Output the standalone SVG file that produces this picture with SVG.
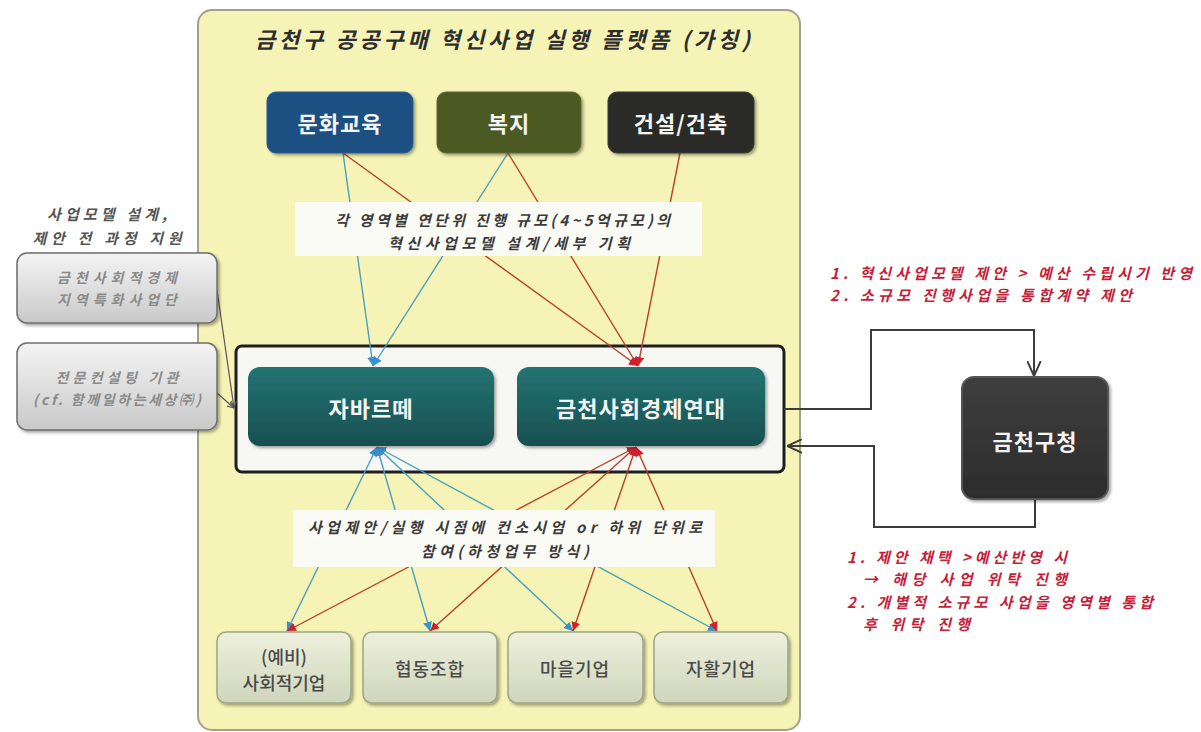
<svg xmlns="http://www.w3.org/2000/svg" width="1201" height="732" viewBox="0 0 1201 732">
<style>
text{font-family:"Noto Sans CJK KR","Noto Sans",sans-serif;}
.it{font-style:italic;font-weight:bold;}
.title{font-size:22px;fill:#2e2e2e;}
.lbl{font-size:15px;fill:#3a3a3a;}
.red{font-size:15px;fill:#c41e3a;}
.side{font-size:15px;fill:#555;}
.gtx{font-size:14px;fill:#8a8a8a;}
.wt{font-size:22px;font-weight:bold;fill:#f4f4f4;}
.bt{font-size:18px;font-weight:500;fill:#4a4a4a;}
.cb{fill:none;stroke-width:1.4;}
.bl{stroke:#4a9fc0;}
.rd{stroke:#b8402e;}
.dk{fill:none;stroke:#3c3c3c;stroke-width:2;}
</style>
<defs>
<filter id="sh" x="-10%" y="-10%" width="130%" height="140%"><feDropShadow dx="2" dy="2" stdDeviation="1.5" flood-color="#000" flood-opacity="0.35"/></filter>
<linearGradient id="gTeal" x1="0" y1="0" x2="0" y2="1"><stop offset="0" stop-color="#237373"/><stop offset="1" stop-color="#184f50"/></linearGradient>
<linearGradient id="gGrey" x1="0" y1="0" x2="0" y2="1"><stop offset="0" stop-color="#f4f4f4"/><stop offset="1" stop-color="#c9c9c9"/></linearGradient>
<linearGradient id="gGreen" x1="0" y1="0" x2="0" y2="1"><stop offset="0" stop-color="#eef0dc"/><stop offset="1" stop-color="#cfd6bc"/></linearGradient>
<linearGradient id="gDark" x1="0" y1="0" x2="0" y2="1"><stop offset="0" stop-color="#3e3e3e"/><stop offset="1" stop-color="#2c2c2c"/></linearGradient>
<marker id="mB" viewBox="0 0 10 10" refX="10" refY="5" markerWidth="9" markerHeight="9" markerUnits="userSpaceOnUse" orient="auto-start-reverse"><path d="M0,0 L10,5 L0,10 z" fill="#3a8fd0"/></marker>
<marker id="mR" viewBox="0 0 10 10" refX="10" refY="5" markerWidth="9" markerHeight="9" markerUnits="userSpaceOnUse" orient="auto-start-reverse"><path d="M0,0 L10,5 L0,10 z" fill="#d0202a"/></marker>
<marker id="mG" viewBox="0 0 10 10" refX="10" refY="5" markerWidth="7" markerHeight="7" markerUnits="userSpaceOnUse" orient="auto"><path d="M0,0 L10,5 L0,10" fill="none" stroke="#555" stroke-width="1.5"/></marker>
<marker id="mO" viewBox="0 0 10 10" refX="10" refY="5" markerWidth="15" markerHeight="15" markerUnits="userSpaceOnUse" orient="auto"><path d="M0,0.5 L10,5 L0,9.5" fill="none" stroke="#3c3c3c" stroke-width="1.3"/></marker>
</defs>
<rect width="1201" height="732" fill="#ffffff"/>
<g id="panel">
<rect x="198" y="10" width="602" height="720" rx="14" fill="#f5f3b5" stroke="#a2a28a" stroke-width="2"/>
<text class="title it" x="255" y="38" dominant-baseline="central" textLength="495" lengthAdjust="spacing">금천구 공공구매 혁신사업 실행 플랫폼 (가칭)</text>
</g>
<g id="container">
<rect x="236" y="346" width="548" height="126" rx="6" fill="#f7f7f4" stroke="#1e1e1e" stroke-width="3"/>
</g>
<g id="connectors">
<line class="cb bl" x1="343" y1="153" x2="373" y2="366" marker-end="url(#mB)"/>
<line class="cb bl" x1="508" y1="153" x2="373" y2="366" marker-end="url(#mB)"/>
<line class="cb rd" x1="343" y1="153" x2="638" y2="366" marker-end="url(#mR)"/>
<line class="cb rd" x1="508" y1="153" x2="638" y2="366" marker-end="url(#mR)"/>
<line class="cb rd" x1="680" y1="153" x2="638" y2="366" marker-end="url(#mR)"/>
<line class="cb bl" x1="377" y1="447" x2="287" y2="631" marker-start="url(#mB)" marker-end="url(#mB)"/>
<line class="cb bl" x1="377" y1="447" x2="430" y2="631" marker-start="url(#mB)" marker-end="url(#mB)"/>
<line class="cb bl" x1="377" y1="447" x2="573" y2="631" marker-start="url(#mB)" marker-end="url(#mB)"/>
<line class="cb bl" x1="377" y1="447" x2="717" y2="631" marker-start="url(#mB)" marker-end="url(#mB)"/>
<line class="cb rd" x1="636" y1="447" x2="287" y2="631" marker-start="url(#mR)" marker-end="url(#mR)"/>
<line class="cb rd" x1="636" y1="447" x2="430" y2="631" marker-start="url(#mR)" marker-end="url(#mR)"/>
<line class="cb rd" x1="636" y1="447" x2="573" y2="631" marker-start="url(#mR)" marker-end="url(#mR)"/>
<line class="cb rd" x1="636" y1="447" x2="717" y2="631" marker-start="url(#mR)" marker-end="url(#mR)"/>
<line x1="217" y1="290" x2="234" y2="408" stroke="#555" stroke-width="1.2" marker-end="url(#mG)"/>
<line x1="217" y1="393" x2="234" y2="408" stroke="#555" stroke-width="1.2" marker-end="url(#mG)"/>
<polyline class="dk" points="784,409 871,409 871,330 1034,330 1034,376" marker-end="url(#mO)"/>
<polyline class="dk" points="1035,499 1035,527 874,527 874,446 787,446" marker-end="url(#mO)"/>
</g>
<g id="label-plan">
<rect x="295" y="202" width="407" height="54" fill="#fbfbf6"/>
<text class="lbl it" x="335" y="219" dominant-baseline="central" textLength="335" lengthAdjust="spacing">각 영역별 연단위 진행 규모(4~5억규모)의</text>
<text class="lbl it" x="388" y="242" dominant-baseline="central" textLength="242" lengthAdjust="spacing">혁신사업모델 설계/세부 기획</text>
</g>
<g id="label-join">
<rect x="293" y="510" width="422" height="57" fill="#fbfbf6"/>
<text class="lbl it" x="308" y="526" dominant-baseline="central" textLength="394" lengthAdjust="spacing">사업제안/실행 시점에 컨소시엄 or 하위 단위로</text>
<text class="lbl it" x="505" y="550" text-anchor="middle" dominant-baseline="central" textLength="168" lengthAdjust="spacing">참여(하청업무 방식)</text>
</g>
<g id="node-culture">
<rect x="267" y="92" width="146" height="61" rx="9" fill="#1d4f82" stroke="#2a5d90" filter="url(#sh)"/>
<text class="wt" x="340" y="122" text-anchor="middle" dominant-baseline="central" letter-spacing="1">문화교육</text>
</g>
<g id="node-welfare">
<rect x="437" y="92" width="144" height="61" rx="9" fill="#4b5a22" stroke="#5a6a30" filter="url(#sh)"/>
<text class="wt" x="509" y="122" text-anchor="middle" dominant-baseline="central" letter-spacing="1">복지</text>
</g>
<g id="node-construction">
<rect x="608" y="92" width="146" height="61" rx="9" fill="#2a2a28" stroke="#3a3a38" filter="url(#sh)"/>
<text class="wt" x="681" y="122" text-anchor="middle" dominant-baseline="central" letter-spacing="1">건설/건축</text>
</g>
<g id="node-jabarte">
<rect x="248" y="367" width="246" height="79" rx="12" fill="url(#gTeal)" filter="url(#sh)"/>
<text class="wt" x="371" y="407" text-anchor="middle" dominant-baseline="central" letter-spacing="1">자바르떼</text>
</g>
<g id="node-solidarity">
<rect x="517" y="367" width="248" height="79" rx="12" fill="url(#gTeal)" filter="url(#sh)"/>
<text class="wt" x="641" y="407" text-anchor="middle" dominant-baseline="central" letter-spacing="1">금천사회경제연대</text>
</g>
<g id="side-caption">
<text class="side it" x="107" y="213" text-anchor="middle" dominant-baseline="central" textLength="120" lengthAdjust="spacing">사업모델 설계,</text>
<text class="side it" x="107" y="237" text-anchor="middle" dominant-baseline="central" textLength="149" lengthAdjust="spacing">제안 전 과정 지원</text>
</g>
<g id="node-specialized">
<rect x="17" y="253" width="200" height="70" rx="10" fill="url(#gGrey)" stroke="#6e6e6e" stroke-width="1.5" filter="url(#sh)"/>
<text class="gtx it" x="117" y="277" text-anchor="middle" dominant-baseline="central" textLength="120" lengthAdjust="spacing">금천사회적경제</text>
<text class="gtx it" x="117" y="299" text-anchor="middle" dominant-baseline="central" textLength="120" lengthAdjust="spacing">지역특화사업단</text>
</g>
<g id="node-consulting">
<rect x="17" y="343" width="200" height="87" rx="10" fill="url(#gGrey)" stroke="#6e6e6e" stroke-width="1.5" filter="url(#sh)"/>
<text class="gtx it" x="117" y="377" text-anchor="middle" dominant-baseline="central" textLength="123" lengthAdjust="spacing">전문컨설팅 기관</text>
<text class="gtx it" x="117" y="399" text-anchor="middle" dominant-baseline="central" textLength="168" lengthAdjust="spacing">(cf. 함께일하는세상㈜)</text>
</g>
<g id="node-gu-office">
<rect x="962" y="377" width="146" height="122" rx="12" fill="url(#gDark)" stroke="#555" stroke-width="2" filter="url(#sh)"/>
<text class="wt" x="1035" y="440" text-anchor="middle" dominant-baseline="central" letter-spacing="1">금천구청</text>
</g>
<g id="right-notes">
<text class="red it" x="830" y="272" dominant-baseline="central" textLength="362" lengthAdjust="spacing">1. 혁신사업모델 제안 &gt; 예산 수립시기 반영</text>
<text class="red it" x="830" y="294" dominant-baseline="central" textLength="302" lengthAdjust="spacing">2. 소규모 진행사업을 통합계약 제안</text>
<text class="red it" x="847" y="556" dominant-baseline="central" textLength="220" lengthAdjust="spacing">1. 제안 채택 &gt;예산반영 시</text>
<text class="red it" x="863" y="578" dominant-baseline="central" textLength="204" lengthAdjust="spacing">→ 해당 사업 위탁 진행</text>
<text class="red it" x="847" y="601" dominant-baseline="central" textLength="306" lengthAdjust="spacing">2. 개별적 소규모 사업을 영역별 통합</text>
<text class="red it" x="863" y="623" dominant-baseline="central" textLength="107" lengthAdjust="spacing">후 위탁 진행</text>
</g>
<g id="node-social">
<rect x="217" y="632" width="134" height="71" rx="9" fill="url(#gGreen)" stroke="#9aa686" stroke-width="1.5" filter="url(#sh)"/>
<text class="bt" x="284" y="656" text-anchor="middle" dominant-baseline="central">(예비)</text>
<text class="bt" x="284" y="682" text-anchor="middle" dominant-baseline="central">사회적기업</text>
</g>
<g id="node-coop">
<rect x="363" y="632" width="134" height="71" rx="9" fill="url(#gGreen)" stroke="#9aa686" stroke-width="1.5" filter="url(#sh)"/>
<text class="bt" x="430" y="668" text-anchor="middle" dominant-baseline="central" letter-spacing="1">협동조합</text>
</g>
<g id="node-village">
<rect x="508" y="632" width="135" height="71" rx="9" fill="url(#gGreen)" stroke="#9aa686" stroke-width="1.5" filter="url(#sh)"/>
<text class="bt" x="575" y="668" text-anchor="middle" dominant-baseline="central" letter-spacing="1">마을기업</text>
</g>
<g id="node-selfsupport">
<rect x="654" y="632" width="134" height="71" rx="9" fill="url(#gGreen)" stroke="#9aa686" stroke-width="1.5" filter="url(#sh)"/>
<text class="bt" x="721" y="668" text-anchor="middle" dominant-baseline="central" letter-spacing="1">자활기업</text>
</g>
</svg>
